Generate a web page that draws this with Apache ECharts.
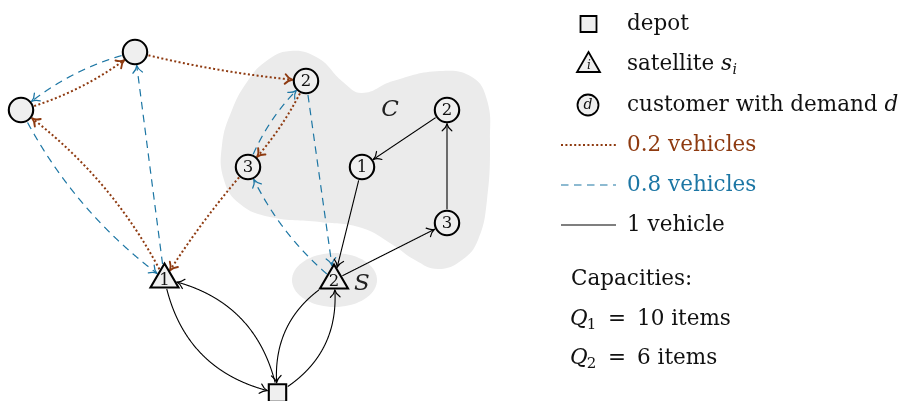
<!DOCTYPE html>
<html><head><meta charset="utf-8">
<script src="https://cdn.jsdelivr.net/npm/echarts@6/dist/echarts.min.js"></script>
<style>html,body{margin:0;padding:0;background:#fff}#c{width:918px;height:401px}</style>
</head><body><div id="c"></div>
<script>
// ---------- data ----------
const nodeIds    = ['D', 'S1', 'S2', 'cTop', 'cLeft', 'c2a', 'c3a', 'c1', 'c2b', 'c3b'];
const nodeKinds  = ['depot', 'sat', 'sat', 'cust', 'cust', 'cust', 'cust', 'cust', 'cust', 'cust'];
const nodeX      = [277.5, 164.5, 334, 135, 21, 306, 248, 362, 447, 447];
const nodeY      = [393, 279, 280, 52, 110, 81, 167, 167, 110, 223];
const nodeLabels = ['', '1', '2', '', '', '2', '3', '1', '2', '3'];

// [from, to, bend]  (bend > 0 : bow to the left of travel)
const edges02 = [['S1','cLeft',-0.12], ['cLeft','cTop',-0.1], ['cTop','c2a',-0.04], ['c2a','c3a',0.08], ['c3a','S1',-0.04]];
const edges08 = [['S1','cTop',0], ['cTop','cLeft',-0.12], ['cLeft','S1',-0.12], ['S2','c3a',0.12], ['c3a','c2a',0.12], ['c2a','S2',0]];
const edges1  = [['S1','D',-0.33], ['D','S1',-0.33], ['S2','D',-0.33], ['D','S2',-0.33], ['S2','c3b',0], ['c3b','c2b',0], ['c2b','c1',0], ['c1','S2',0]];

const regionC = [[265,62],[290,51],[318,58],[343,82],[362,93],[393,81],[440,71],[472,77],[487,100],[490,140],[487,200],[478,240],[462,260],[438,269],[415,260],[393,245],[362,228],[320,222],[270,217],[240,204],[224,180],[222,145],[232,110],[247,82]];
const regionS = { cx: 334.5, cy: 280, rx: 42.5, ry: 27 };
const regionLabels = [['C', 390, 110], ['S', 362, 284]];

const legendShapes = ['depot', 'satellite', 'customer with demand'];
const legendLines = ['0.2 vehicles', '0.8 vehicles', '1 vehicle'];
const capacityTitle = 'Capacities:';
const capacities = [['1', '10 items'], ['2', '6 items']];

// ---------- styles ----------
const BROWN = '#8e3a10', BLUE = '#1c76a4', FILL = '#efefef', GRAYREG = '#ebebeb';
const SERIF = '"DejaVu Serif", serif';
const FS = 21.5;
const edgeStyles = {
  e02: { stroke: BROWN, lineWidth: 2.0, lineDash: [2, 2.4], aw: 1.7 },
  e08: { stroke: BLUE, lineWidth: 1.2, lineDash: [7.5, 5.5], aw: 1.1 },
  e1:  { stroke: '#000', lineWidth: 1.1, lineDash: null, aw: 1.0 }
};
const allEdges = [].concat(
  edges02.map(e => [e[0], e[1], e[2], 'e02']),
  edges08.map(e => [e[0], e[1], e[2], 'e08']),
  edges1.map(e => [e[0], e[1], e[2], 'e1'])
);
const idx = id => nodeIds.indexOf(id);

// node geometry in pixels
const CR = 12.2, SQ = 8.7;
const TRI = [[0,-15.5],[14,8.5],[-14,8.5]];
function insideNode(kind, c, p, m) {
  const dx = p[0]-c[0], dy = p[1]-c[1];
  if (kind === 'cust') return Math.hypot(dx, dy) < CR + 1 + m;
  if (kind === 'depot') return Math.abs(dx) < SQ + 1 + m && Math.abs(dy) < SQ + 1 + m;
  const cy0 = (TRI[0][1]+TRI[1][1]+TRI[2][1])/3;
  const s = 1 + (1.5 + m)/12;
  const T = TRI.map(q => [q[0]*s, cy0 + (q[1]-cy0)*s]);
  function sign(a,b,c){return (a[0]-c[0])*(b[1]-c[1])-(b[0]-c[0])*(a[1]-c[1]);}
  const P=[dx,dy];
  const d1=sign(P,T[0],T[1]), d2=sign(P,T[1],T[2]), d3=sign(P,T[2],T[0]);
  const neg=(d1<0)||(d2<0)||(d3<0), pos=(d1>0)||(d2>0)||(d3>0);
  return !(neg&&pos);
}

function arrowHead(tip, dir, color, lw) {
  const L = 7, W = 4.8;
  const n = [-dir[1], dir[0]];
  const out = [];
  [1, -1].forEach(s => {
    const end = [tip[0]-dir[0]*L + n[0]*W*s, tip[1]-dir[1]*L + n[1]*W*s];
    const cp = [tip[0]-dir[0]*L*0.55 + n[0]*W*s*0.18, tip[1]-dir[1]*L*0.55 + n[1]*W*s*0.18];
    out.push({ type: 'bezierCurve', shape: { x1: tip[0], y1: tip[1], x2: end[0], y2: end[1], cpx1: cp[0], cpy1: cp[1] },
      style: { stroke: color, lineWidth: lw + 0.2, fill: null, lineCap: 'round' } });
  });
  return out;
}

function renderEdge(params, api) {
  const e = allEdges[params.dataIndex];
  const a = idx(e[0]), b = idx(e[1]);
  const p0 = api.coord([nodeX[a], nodeY[a]]), p1 = api.coord([nodeX[b], nodeY[b]]);
  const dx = p1[0]-p0[0], dy = p1[1]-p0[1], len = Math.hypot(dx, dy);
  const perp = [dy/len, -dx/len];
  const c = [(p0[0]+p1[0])/2 + perp[0]*e[2]*len, (p0[1]+p1[1])/2 + perp[1]*e[2]*len];
  const N = 500, pts = [];
  for (let i = 0; i <= N; i++) {
    const t = i/N, u = 1-t;
    pts.push([u*u*p0[0] + 2*u*t*c[0] + t*t*p1[0], u*u*p0[1] + 2*u*t*c[1] + t*t*p1[1]]);
  }
  let i0 = 0; while (i0 < N && insideNode(nodeKinds[a], p0, pts[i0], 0.5)) i0++;
  let i1 = N; while (i1 > 0 && insideNode(nodeKinds[b], p1, pts[i1], 0.5)) i1--;
  const st = edgeStyles[e[3]];
  const tip = pts[i1];
  const back = pts[Math.max(i0, i1 - 6)];
  let dir = [tip[0]-back[0], tip[1]-back[1]]; const dl = Math.hypot(dir[0], dir[1]); dir = [dir[0]/dl, dir[1]/dl];
  const linePts = pts.slice(i0, i1 - 1);
  const children = [{ type: 'polyline', shape: { points: linePts },
    style: { stroke: st.stroke, lineWidth: st.lineWidth, lineDash: st.lineDash, fill: null } }];
  return { type: 'group', children: children.concat(arrowHead(tip, dir, st.stroke, st.aw)) };
}

function renderNode(params, api) {
  const i = params.dataIndex;
  const p = api.coord([nodeX[i], nodeY[i]]);
  const kind = nodeKinds[i];
  const ch = [];
  const st = { fill: FILL, stroke: '#000', lineWidth: 2.1 };
  if (kind === 'depot') ch.push({ type: 'rect', shape: { x: p[0]-SQ, y: p[1]-SQ, width: 2*SQ, height: 2*SQ }, style: st });
  else if (kind === 'sat') ch.push({ type: 'polygon', shape: { points: TRI.map(q => [p[0]+q[0], p[1]+q[1]]) }, style: Object.assign({ lineJoin: 'miter' }, st) });
  else ch.push({ type: 'circle', shape: { cx: p[0], cy: p[1], r: CR }, style: st });
  if (nodeLabels[i]) {
    ch.push({ type: 'text', style: { text: nodeLabels[i], x: p[0], y: p[1] + (kind === 'sat' ? 1.5 : 0.5),
      align: 'center', verticalAlign: 'middle', font: '16.5px ' + SERIF, fill: '#111' } });
  }
  return { type: 'group', children: ch };
}

function renderRegion(params, api) {
  const ch = [];
  ch.push({ type: 'polygon', shape: { points: regionC.map(q => api.coord(q)), smooth: 0.45 }, style: { fill: GRAYREG } });
  const pts = [];
  for (let k = 0; k < 72; k++) { const t = k/72*2*Math.PI; pts.push(api.coord([regionS.cx + regionS.rx*Math.cos(t), regionS.cy + regionS.ry*Math.sin(t)])); }
  ch.push({ type: 'polygon', shape: { points: pts }, style: { fill: GRAYREG } });
  regionLabels.forEach(l => {
    const p = api.coord([l[1], l[2]]);
    ch.push({ type: 'text', style: { text: l[0], x: p[0], y: p[1], align: 'center', verticalAlign: 'middle', font: 'italic 23px ' + SERIF, fill: '#222' } });
  });
  return { type: 'group', children: ch };
}

// ---------- legend (graphic) ----------
const mctx = document.createElement('canvas').getContext('2d');
function tw(t, font) { mctx.font = font; return mctx.measureText(t).width; }
const F = FS + 'px ' + SERIF, FI = 'italic ' + FS + 'px ' + SERIF;
const TX = 627;
function txt(t, x, y, font, color) {
  return { type: 'text', x: x, y: y, style: { text: t, font: font, fill: color || '#111', verticalAlign: 'middle', align: 'left' } };
}
const g = [];
const rowY = [24, 64, 105];
g.push({ type: 'rect', shape: { x: 580.5, y: rowY[0]-8, width: 16, height: 16 }, style: { fill: FILL, stroke: '#000', lineWidth: 1.8 } });
g.push({ type: 'polygon', shape: { points: [[588.5, rowY[1]-12], [600, rowY[1]+8], [577, rowY[1]+8]] }, style: { fill: FILL, stroke: '#000', lineWidth: 1.8 } });
g.push({ type: 'text', x: 589, y: rowY[1]+2, style: { text: 'i', font: 'italic 12px ' + SERIF, fill: '#111', align: 'center', verticalAlign: 'middle' } });
g.push({ type: 'circle', shape: { cx: 588, cy: rowY[2], r: 10.5 }, style: { fill: FILL, stroke: '#000', lineWidth: 1.8 } });
g.push({ type: 'text', x: 588, y: rowY[2], style: { text: 'd', font: 'italic 14px ' + SERIF, fill: '#111', align: 'center', verticalAlign: 'middle' } });
g.push(txt(legendShapes[0], TX, rowY[0], F));
g.push(txt(legendShapes[1] + ' ', TX, rowY[1], F));
const sx = TX + tw(legendShapes[1] + ' ', F);
g.push(txt('s', sx, rowY[1], FI));
g.push(txt('i', sx + tw('s', FI) + 0.5, rowY[1] + 6, 'italic 14px ' + SERIF));
g.push(txt(legendShapes[2] + ' ', TX, rowY[2], F));
g.push(txt('d', TX + tw(legendShapes[2] + ' ', F), rowY[2], FI));
const lineY = [145, 185, 225];
const lineSt = [edgeStyles.e02, edgeStyles.e08, edgeStyles.e1];
const lineCol = [BROWN, BLUE, '#111'];
lineY.forEach((y, k) => {
  g.push({ type: 'line', shape: { x1: 561, y1: y, x2: 616, y2: y }, style: { stroke: lineSt[k].stroke, lineWidth: lineSt[k].lineWidth, lineDash: lineSt[k].lineDash } });
  g.push(txt(legendLines[k], TX, y, F, lineCol[k]));
});
g.push(txt(capacityTitle, 571, 279, F));
const capY = [319, 358];
capacities.forEach((c, k) => {
  const y = capY[k];
  g.push(txt('Q', 570, y, FI));
  g.push(txt(c[0], 570 + tw('Q', FI) - 1, y + 6, '15px ' + SERIF));
  g.push(txt('=', 608, y, F));
  g.push(txt(c[1], 637, y, F));
});

const chart = echarts.init(document.getElementById('c'), null, { renderer: 'canvas' });
chart.setOption({
  animation: false,
  grid: { left: 0, right: 0, top: 0, bottom: 0 },
  xAxis: { type: 'value', min: 0, max: 918, show: false },
  yAxis: { type: 'value', min: 0, max: 401, inverse: true, show: false },
  series: [
    { type: 'custom', coordinateSystem: 'cartesian2d', renderItem: renderRegion, data: [0], z: 1, silent: true },
    { type: 'custom', coordinateSystem: 'cartesian2d', renderItem: renderEdge, data: allEdges.map((e, i) => i), z: 2, silent: true },
    { type: 'custom', coordinateSystem: 'cartesian2d', renderItem: renderNode, data: nodeIds.map((n, i) => [nodeX[i], nodeY[i]]), z: 3, silent: true }
  ],
  graphic: g
});
</script></body></html>
